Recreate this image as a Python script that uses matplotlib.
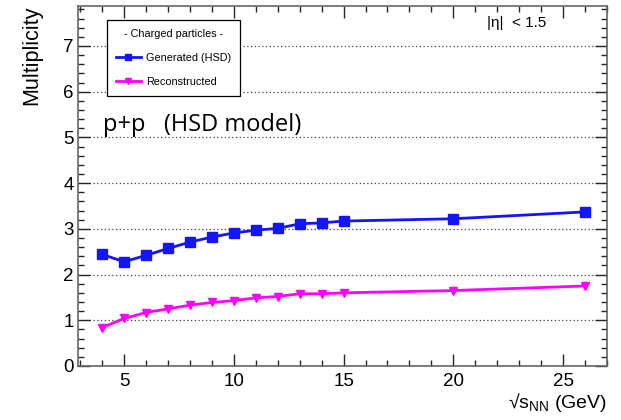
import numpy as np
import matplotlib
matplotlib.use('Agg')
import matplotlib.pyplot as plt
from matplotlib.ticker import MultipleLocator

plt.rcParams['font.family'] = ['Liberation Sans', 'DejaVu Sans']
plt.rcParams['mathtext.fontset'] = 'custom'
plt.rcParams['mathtext.rm'] = 'Liberation Sans'

# sqrt(s_NN) energies and charged multiplicities
energia = [4, 5, 6, 7, 8, 9, 10, 11, 12, 13, 14, 15, 20, 26]
gen_hsd = [2.44, 2.28, 2.42, 2.57, 2.71, 2.82, 2.91, 2.97, 3.01, 3.11, 3.13, 3.17, 3.22, 3.37]
reco = [0.84, 1.04, 1.17, 1.25, 1.33, 1.39, 1.43, 1.49, 1.52, 1.58, 1.58, 1.60, 1.65, 1.75]

W, H = 621, 420
fig = plt.figure(figsize=(W/100, H/100), dpi=100)
ax = fig.add_axes([78/W, 54/H, (607-78)/W, (366-5.7)/H])

ax.plot(energia, gen_hsd, color='#1414ff', lw=2, marker='s', ms=6.5,
        label='Generated (HSD)', zorder=3)
ax.plot(energia, reco, color='#ff00ff', lw=2, marker='v', ms=6,
        label='Reconstructed', zorder=3)

ax.set_xlim(2.9, 27.0)
ax.set_ylim(0, 7.88)
ax.xaxis.set_major_locator(MultipleLocator(5))
ax.xaxis.set_minor_locator(MultipleLocator(1))
ax.yaxis.set_major_locator(MultipleLocator(1))
ax.yaxis.set_minor_locator(MultipleLocator(0.2))

ax.set_axisbelow(True)
ax.yaxis.grid(True, linestyle=(0, (1, 2)), color='0.25', linewidth=0.9)

ax.tick_params(which='both', direction='in', top=True, right=True,
               color='0.15', width=1.0, labelsize=13.5)
ax.tick_params(which='major', length=8.5)
ax.tick_params(which='minor', length=4)
ax.tick_params(axis='x', pad=5)
ax.tick_params(axis='y', pad=3)
for s in ax.spines.values():
    s.set_color('0.4')
    s.set_linewidth(1.2)

leg = ax.legend(title='- Charged particles -', loc='upper left',
                bbox_to_anchor=(107/W, 1 - 20/H), bbox_transform=fig.transFigure,
                fontsize=7.8, title_fontsize=7.8, fancybox=False, edgecolor='black',
                framealpha=1, handlelength=2.3, handletextpad=0.5, labelspacing=1.3,
                borderpad=0.8, borderaxespad=0, markerscale=0.7)
leg.get_frame().set_linewidth(0.9)

fig.text(103/W, 1 - 131/H, 'p+p   (HSD model)', fontsize=17, family='Open Sans',
         va='baseline')
fig.text(487/W, 1 - 27/H, '|η|  < 1.5', fontsize=11, va='baseline')
fig.text(607/W, 1 - 408/H, r'√$\mathregular{s_{NN}}$ (GeV)', fontsize=14,
         ha='right', va='baseline')
fig.text(32/W, 1 - 6/H, 'Multiplicity', fontsize=15.5, rotation=90,
         ha='center', va='top')

fig.savefig('out.png', dpi=100)
